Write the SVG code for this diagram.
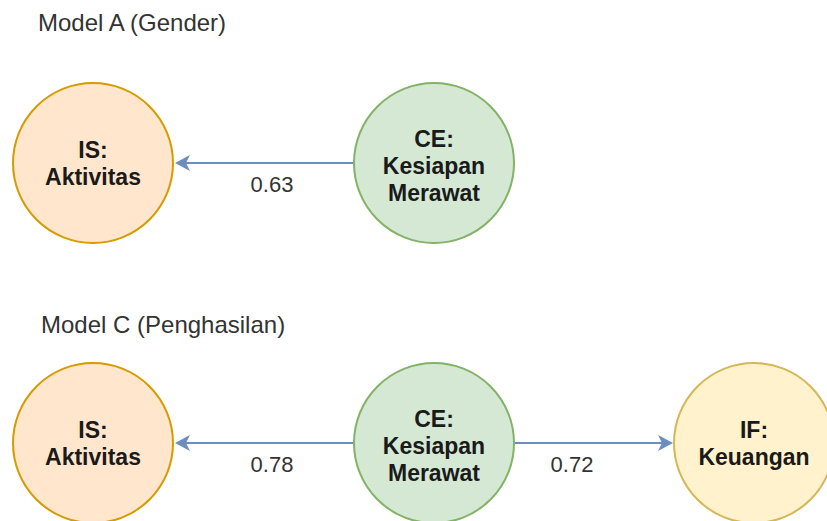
<svg xmlns="http://www.w3.org/2000/svg" width="827" height="521" viewBox="0 0 827 521">
  <style>
    .title { font-family: "Liberation Sans", Arial, sans-serif; font-size: 24px; fill: #333333; }
    .node-text { font-family: "Liberation Sans", Arial, sans-serif; font-size: 23px; font-weight: bold; fill: #1a1a1a; text-anchor: middle; }
    .edge-label { font-family: "Liberation Sans", Arial, sans-serif; font-size: 22px; fill: #333333; text-anchor: middle; }
    .is { fill: #ffe6cc; stroke: #d79b00; stroke-width: 2; }
    .ce { fill: #d5e8d4; stroke: #82b366; stroke-width: 2; }
    .if { fill: #fff2cc; stroke: #d6b656; stroke-width: 2; }
    .edge { stroke: #6c8ebf; stroke-width: 2; fill: none; }
  </style>
  <defs>
    <marker id="arrow" markerUnits="userSpaceOnUse" viewBox="0 0 15 16" markerWidth="15" markerHeight="16" refX="4" refY="8" orient="auto">
      <path d="M0,0 L15,8 L0,16 L4,8 Z" fill="#6c8ebf"/>
    </marker>
  </defs>

  <rect width="827" height="521" fill="#ffffff"/>

  <text class="title" x="38" y="31">Model A (Gender)</text>
  <text class="title" x="41" y="333">Model C (Penghasilan)</text>

  <g id="connectors">
    <line class="edge" x1="353" y1="163" x2="186" y2="163" marker-end="url(#arrow)"/>
    <line class="edge" x1="353" y1="443" x2="186" y2="443" marker-end="url(#arrow)"/>
    <line class="edge" x1="515" y1="443" x2="662" y2="443" marker-end="url(#arrow)"/>
    <text class="edge-label" x="272" y="192">0.63</text>
    <text class="edge-label" x="272" y="472">0.78</text>
    <text class="edge-label" x="572" y="472">0.72</text>
  </g>

  <g id="nodeA-IS">
    <circle class="is" cx="93" cy="163" r="80"/>
    <text class="node-text" x="93" y="158">IS:</text>
    <text class="node-text" x="93" y="185">Aktivitas</text>
  </g>
  <g id="nodeA-CE">
    <circle class="ce" cx="434" cy="163" r="80"/>
    <text class="node-text" x="434" y="147">CE:</text>
    <text class="node-text" x="434" y="174">Kesiapan</text>
    <text class="node-text" x="434" y="201">Merawat</text>
  </g>

  <g id="nodeC-IS">
    <circle class="is" cx="93" cy="443" r="80"/>
    <text class="node-text" x="93" y="438">IS:</text>
    <text class="node-text" x="93" y="465">Aktivitas</text>
  </g>
  <g id="nodeC-CE">
    <circle class="ce" cx="434" cy="443" r="80"/>
    <text class="node-text" x="434" y="427">CE:</text>
    <text class="node-text" x="434" y="454">Kesiapan</text>
    <text class="node-text" x="434" y="481">Merawat</text>
  </g>
  <g id="nodeC-IF">
    <circle class="if" cx="754" cy="443" r="80"/>
    <text class="node-text" x="754" y="438">IF:</text>
    <text class="node-text" x="754" y="465">Keuangan</text>
  </g>
</svg>
